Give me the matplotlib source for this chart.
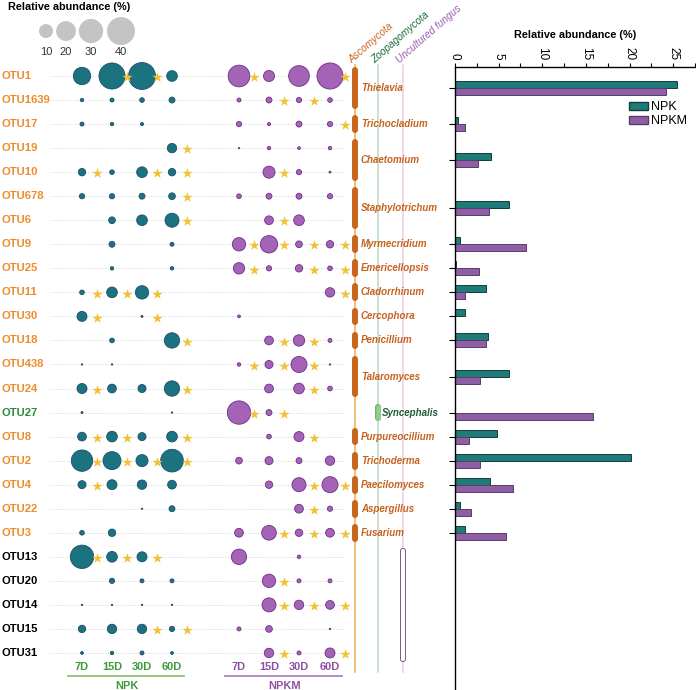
import numpy as np
import matplotlib
matplotlib.use("Agg")
import matplotlib.pyplot as plt
from matplotlib.patches import Patch

plt.rcParams['font.family'] = ['Liberation Sans', 'DejaVu Sans']

# ---- data ----
otus = ['OTU1', 'OTU1639', 'OTU17', 'OTU19', 'OTU10', 'OTU678', 'OTU6', 'OTU9',
        'OTU25', 'OTU11', 'OTU30', 'OTU18', 'OTU438', 'OTU24', 'OTU27', 'OTU8',
        'OTU2', 'OTU4', 'OTU22', 'OTU3', 'OTU13', 'OTU20', 'OTU14', 'OTU15', 'OTU31']
otu_phylum = ['A'] * 14 + ['Z'] + ['A'] * 5 + ['U'] * 5
days = ['7D', '15D', '30D', '60D']
n = np.nan

# relative abundance (%) per OTU at 7D, 15D, 30D, 60D
npk = [[15.5, 34.6, 37, 5.8], [0.6, 0.8, 1.1, 1.8], [0.8, 0.6, 0.5, n], [n, n, n, 4.5],
       [2.8, 1.1, 5.8, 2.8], [1.4, 1.4, 1.8, 2.3], [n, 2.3, 5.8, 10], [n, 1.8, n, 0.8],
       [n, 0.6, n, 0.6], [1.1, 5.8, 9.1, n], [5.1, n, 0.2, n], [n, 1.1, n, 12],
       [0.1, 0.1, n, n], [5.1, 3.9, 3.3, 12], [0.2, n, n, 0.1], [3.9, 5.8, 3.3, 5.8],
       [23.3, 16.6, 7.4, 26.3], [3.3, 5.1, 4.5, 3.9], [n, n, 0.1, 1.8], [1.1, 2.8, n, n],
       [27.8, 5.8, 5.1, n], [n, 1.4, 0.8, 0.8], [0.1, 0.1, 0.1, 0.1], [2.8, 4.5, 4.5, 1.4],
       [0.4, 0.6, 0.8, 0.4]]
npkm = [[24, 6.2, 21.8, 34.6], [0.8, 1.8, 1.4, 1.1], [1.4, 0.5, 1.8, 1.4], [0.1, 0.6, 0.4, 0.6],
        [n, 7.4, 1.4, 0.2], [1.1, 1.8, 1.8, 1.4], [n, 3.9, 5.8, n], [9.1, 15.4, 2.3, 2.8],
        [6.6, 1.4, 2.8, 1.1], [n, n, n, 4.5], [0.4, n, n, n], [n, 3.9, 6.6, 0.8],
        [0.6, 3.3, 13.1, 0.1], [n, 3.9, 5.8, 1.1], [27.8, 1.8, n, n], [n, 1.1, 5.1, n],
        [2.3, 3.3, 1.8, 4.5], [n, 2.8, 10, 13.1], [n, n, 3.9, 1.4], [3.9, 11, 2.8, 3.9],
        [12, n, 0.6, n], [n, 9.1, 0.8, 0.8], [n, 10, 4.5, 3.9], [0.8, 2.3, n, 0.1],
        [n, 4.5, 0.8, 5.1]]

# significance stars (1 = star next to that time point)
npk_sig = ['0110', '0000', '0000', '0001', '1011', '0001', '0001', '0000', '0000', '1110',
           '1010', '0001', '0000', '1001', '0000', '1101', '1111', '1000', '0000', '0000',
           '1110', '0000', '0000', '0011', '0000']
npkm_sig = ['1001', '0110', '0001', '0000', '0100', '0000', '0100', '1111', '1011', '0001',
            '0000', '0110', '1110', '0010', '1100', '0010', '0000', '0011', '0010', '0111',
            '0000', '0100', '0111', '0000', '0101']

# genus blocks: name, first row, last row
genera = ['Thielavia', 'Trichocladium', 'Chaetomium', 'Staphylotrichum', 'Myrmecridium',
          'Emericellopsis', 'Cladorrhinum', 'Cercophora', 'Penicillium', 'Talaromyces',
          'Syncephalis', 'Purpureocillium', 'Trichoderma', 'Paecilomyces', 'Aspergillus', 'Fusarium']
genus_first = [0, 2, 3, 5, 7, 8, 9, 10, 11, 12, 14, 15, 16, 17, 18, 19]
genus_last = [1, 2, 4, 6, 7, 8, 9, 10, 11, 13, 14, 15, 16, 17, 18, 19]
genus_phylum = ['A'] * 10 + ['Z'] + ['A'] * 5
uncultured_rows = (20, 24)

# genus relative abundance bars (%)
bar_npk = [25.4, 0.4, 4.1, 6.2, 0.6, 0.15, 3.6, 1.2, 3.8, 6.2, 0.0, 4.8, 20.2, 4.0, 0.6, 1.2]
bar_npkm = [24.2, 1.1, 2.6, 3.9, 8.1, 2.75, 1.2, 0.05, 3.5, 2.9, 15.8, 1.6, 2.9, 6.6, 1.8, 5.8]

legend_sizes = [10, 20, 30, 40]

# ---- styles ----
c_npk, e_npk = '#1B7380', '#1C4C6C'
c_npkm, e_npkm = '#A463B6', '#6A2F85'
c_star = '#F0C233'
c_orange_lbl = '#EE8B2B'
c_genus = '#C5621E'
lbl_col = {'A': c_orange_lbl, 'Z': '#2E8B3A', 'U': 'black'}
W, H = 696, 690
y0, dy = 76, 24.04           # pixel of first row, row spacing
row_top = -y0 / dy
row_bot = (H - y0) / dy
pt = 0.72                    # points per pixel at dpi 100


def size_of(v):
    r = 7 * np.sqrt(np.asarray(v, float) / 10)   # radius in px
    return (2 * r * pt) ** 2


fig = plt.figure(figsize=(W / 100, H / 100), dpi=100)
ax = fig.add_axes([0, 0, 1, 1])
ax.set_xlim(0, W)
ax.set_ylim(row_bot, row_top)
ax.axis('off')

rows = np.arange(len(otus))
npk_x = [82, 112, 142, 172]
npkm_x = [239, 269, 299, 330]

# row guide lines
for r in rows:
    ax.plot([50, 345], [r, r], ls=(0, (1.5, 1.5)), color='#DADADA', lw=0.6, zorder=0)

for xs, vals, sig, fc, ec in [(npk_x, npk, npk_sig, c_npk, e_npk),
                              (npkm_x, npkm, npkm_sig, c_npkm, e_npkm)]:
    vals = np.array(vals)
    for j, x in enumerate(xs):
        ok = ~np.isnan(vals[:, j])
        ax.scatter(np.full(ok.sum(), x), rows[ok], s=size_of(vals[ok, j]),
                   color=fc, edgecolor=ec, lw=0.6, zorder=3)
        srows = [i for i in rows if sig[i][j] == '1']
        ax.scatter(np.full(len(srows), x + 15), np.array(srows) + 0.05, marker='*',
                   s=60, color=c_star, lw=0, zorder=4)

# OTU labels
for i, name in enumerate(otus):
    ax.text(2, i, name, color=lbl_col[otu_phylum[i]], fontsize=8.1, fontweight='bold',
            va='center', ha='left')

# day labels and treatment groups
for xs, col, lcol, grp in [(npk_x, '#3C9A3C', '#8CC36E', 'NPK'),
                           (npkm_x, '#8D4FA3', '#AE83C4', 'NPKM')]:
    for x, d in zip(xs, days):
        ax.text(x, 24.58, d, color=col, fontsize=7.9, fontweight='bold', ha='center', va='center')
    ax.plot([xs[0] - 14, xs[-1] + 12], [24.96, 24.96], color=lcol, lw=1.3)
    ax.text((xs[0] + xs[-1]) / 2, 25.38, grp, color=col, fontsize=7.9, fontweight='bold',
            ha='center', va='center')

# size legend
leg_x = [46, 66, 91, 121]
ax.scatter(leg_x, [-1.87] * 4, s=size_of(legend_sizes), color='#C4C4C4', lw=0)
for x, v in zip(leg_x, legend_sizes):
    ax.text(x, -1.0, str(v), fontsize=8, ha='center', va='center', color='#333333')
ax.text(8, -2.86, 'Relative abundance (%)', fontsize=7.8, fontweight='bold', va='center')

# taxonomy tree
phyla = [('Ascomycota', 355, '#F2AA55', '#C8661E'),
         ('Zoopagomycota', 378, '#BCDAC2', '#1F6B3A'),
         ('Uncultured fungus', 403, '#EBCBE7', '#9A5BB0')]
for name, x, lc, tc in phyla:
    ax.plot([x, x], [-0.45, 24.8], color=lc, lw=1.1, zorder=1)
    ax.text(x - 3, -0.5, name, color=tc, fontsize=7.3, style='italic', rotation=41,
            rotation_mode='anchor', ha='left', va='baseline')

cap = 3 / dy
for g, a, b, ph in zip(genera, genus_first, genus_last, genus_phylum):
    ya, yb = a - 0.37 + cap, b + 0.37 - cap
    if ph == 'A':
        ax.plot([355, 355], [ya, yb], color='#C8661E', lw=6 * pt, solid_capstyle='round', zorder=2)
        ax.text(361, (a + b) / 2, g, color=c_genus, fontsize=7, fontweight='bold',
                style='italic', va='center')
    else:
        ax.plot([378, 378], [ya, yb], color='#6FB36E', lw=6 * pt, solid_capstyle='round', zorder=2)
        ax.plot([378, 378], [ya, yb], color='#93CD90', lw=4.6 * pt, solid_capstyle='round', zorder=2)
        ax.text(382, (a + b) / 2, g, color='#1F5E32', fontsize=7, fontweight='bold',
                style='italic', va='center')
ya, yb = uncultured_rows[0] - 0.37 + cap, uncultured_rows[1] + 0.37 - cap
ax.plot([403, 403], [ya, yb], color='#5B3D6B', lw=6 * pt, solid_capstyle='round', zorder=2)
ax.plot([403, 403], [ya, yb], color='white', lw=4.4 * pt, solid_capstyle='round', zorder=2)

# bar chart
ax.text(575, (35 - y0) / dy, 'Relative abundance (%)', fontsize=7.8, fontweight='bold',
        ha='center', va='center')
top_px = 67
bx = fig.add_axes([455 / W, 0, (W - 455) / W, (H - top_px) / H])
bx.set_xlim(0, 241 / 8.733)
bx.set_ylim(row_bot, (top_px - y0) / dy)
centers = [(a + b) / 2 for a, b in zip(genus_first, genus_last)]
centers = np.array(centers)
bh = 7 / dy
bx.barh(centers - bh / 2, bar_npk, height=bh, color='#1E7B77', edgecolor='#123F3D', lw=0.7,
        label='NPK')
bx.barh(centers + bh / 2, bar_npkm, height=bh, color='#8F5FA6', edgecolor='#5A3A6A', lw=0.7,
        label='NPKM')
bx.set_yticks(centers)
bx.set_yticklabels([])
bx.xaxis.tick_top()
bx.set_xticks([0, 5, 10, 15, 20, 25])
bx.set_xticks(np.arange(2.5, 27.6, 5), minor=True)
bx.tick_params(axis='x', which='both', length=3, width=0.8, labelsize=8.5, pad=2,
               labelrotation=-90)
bx.tick_params(axis='y', length=4, width=0.8)
for s in ['right', 'bottom']:
    bx.spines[s].set_visible(False)
for s in ['left', 'top']:
    bx.spines[s].set_linewidth(1)
bx.patch.set_alpha(0)
bx.legend(handles=[Patch(facecolor='#1E7B77', edgecolor='#123F3D', label='NPK'),
                   Patch(facecolor='#8F5FA6', edgecolor='#5A3A6A', label='NPKM')],
          loc='upper right', bbox_to_anchor=(689 / W, 1 - 99 / H),
          bbox_transform=fig.transFigure, frameon=False, fontsize=9,
          handlelength=1.5, handleheight=0.65, labelspacing=0.15, handletextpad=0.2,
          borderaxespad=0, borderpad=0.2)

fig.savefig('out.png', dpi=100)
